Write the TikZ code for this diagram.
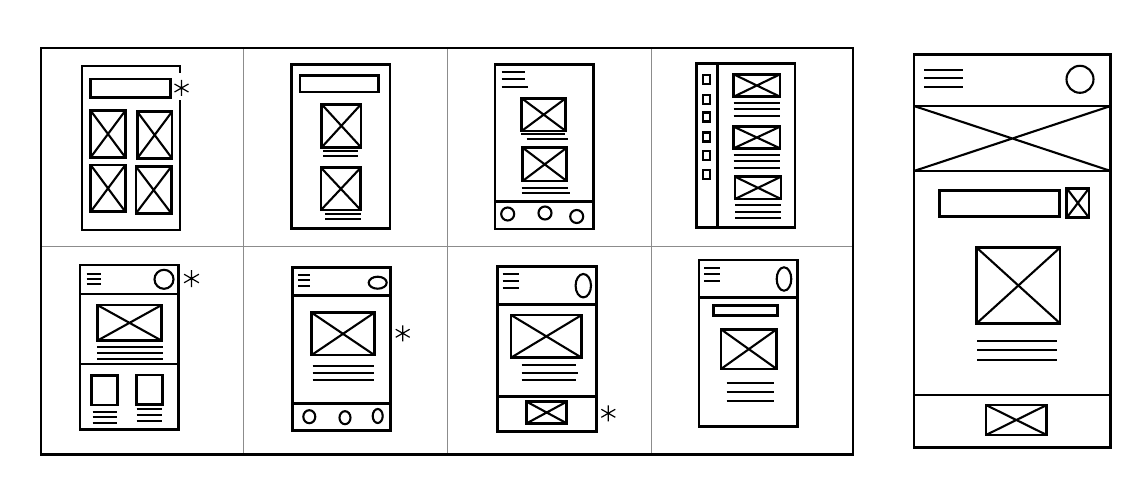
\documentclass[tikz,border=0pt]{standalone}
\begin{document}
\begin{tikzpicture}[x=1pt,y=-1pt,line join=miter,
  wf/.style={draw=black,line width=2.5pt},
  thinl/.style={draw=black,line width=2.1pt},
  grid/.style={draw=black!45,line width=1pt},
  astk/.style={draw=black,line width=1.2pt}]
\newcommand\wfx[4]{\draw[wf] (#1,#2) rectangle (#3,#4); \draw[thinl] (#1,#2) -- (#3,#4) (#1,#4) -- (#3,#2);}
\newcommand\wfast[3]{\draw[astk] (#1,#2) ++(0,-#3) -- ++(0,2*#3) (#1,#2) ++(-0.87*#3,-0.5*#3) -- ++(1.74*#3,#3) (#1,#2) ++(-0.87*#3,0.5*#3) -- ++(1.74*#3,-#3);}
\newcommand\wfl[3]{\draw[thinl] (#1,#3) -- (#2,#3);}
\useasboundingbox (0,0) rectangle (1143,497);
\fill[white] (0,0) rectangle (1143,497);
% grid
\draw[grid] (243.5,48) -- (243.5,455) (447.5,48) -- (447.5,455) (651.5,48) -- (651.5,455) (41,246) -- (853,246);
\draw[black,line width=2.2pt] (41,48) rectangle (853,454.5);
% ---- cell 1
\draw[wf] (180,73) -- (180,66) -- (82,66) -- (82,230) -- (180,230) -- (180,100);
\draw[wf] (90.7,79) rectangle (170.7,97.3);
\wfast{181.5}{88}{8}
\wfx{90.7}{110.7}{125.3}{157.3}
\wfx{137.3}{111.7}{172}{158.3}
\wfx{90.7}{165}{125.3}{211.7}
\wfx{136}{166.7}{171.3}{213.3}
% ---- cell 2
\draw[wf] (291.7,64.3) rectangle (390,228.3);
\draw[wf] (300,75.7) rectangle (378.7,92);
\wfx{321.7}{104.3}{361}{147.3}
\wfl{323}{358}{151} \wfl{323}{358}{156}
\wfx{321}{167.7}{360.7}{210}
\wfl{325}{361}{214} \wfl{325}{361}{219}
% ---- cell 3
\draw[wf] (495,64.3) rectangle (593.3,229);
\draw[wf] (495,201.7) -- (593.3,201.7);
\wfl{501.7}{525}{72.3} \wfl{501.7}{525}{79} \wfl{501.7}{528}{87}
\wfx{521.7}{98.3}{565.7}{131}
\wfl{521}{565}{134.3} \wfl{526.7}{567.7}{139.3}
\wfx{522.7}{147.7}{566.7}{181}
\wfl{521.7}{568}{187.7} \wfl{521.7}{570}{192.7}
\draw[thinl] (507.7,214) circle (6.5) (545,213) circle (6.5) (576.7,216.5) circle (6.5);
% ---- cell 4
\draw[wf] (696.7,63.3) rectangle (795,227.7);
\draw[wf] (717.7,63.3) -- (717.7,227.7);
\foreach \yy in {79.7,99.7,117,137,155.3,174.3} \draw[thinl] (703.3,\yy-4.5) rectangle (710,\yy+4.5);
\wfx{733.7}{74.3}{780}{96.7}
\wfl{733.7}{780}{103.3} \wfl{733.7}{780}{109} \wfl{733.7}{780}{115.7}
\wfx{733.7}{126.7}{780}{148.3}
\wfl{733.7}{780}{155} \wfl{733.7}{780}{161} \wfl{733.7}{780}{167.7}
\wfx{735}{176.7}{781}{199}
\wfl{735}{781}{205} \wfl{735}{781}{211.7} \wfl{735}{781}{217.7}
% ---- cell 5
\draw[wf] (80,265) rectangle (178.3,429.3);
\draw[wf] (80,294) -- (178.3,294) (80,364) -- (178.3,364);
\wfl{86.7}{101}{274.3} \wfl{86.7}{101}{279.3} \wfl{86.7}{101}{284.3}
\draw[thinl] (164,279.3) circle (9.5);
\wfast{191.5}{278.5}{8.5}
\wfx{97.3}{305}{161.7}{340.7}
\wfl{97.3}{163.3}{347.3} \wfl{97.3}{163.3}{352.7} \wfl{97.3}{163.3}{358.7}
\draw[wf] (91.7,375.7) rectangle (117.3,405);
\draw[wf] (136.7,375) rectangle (162.7,404.3);
\wfl{92.7}{117.3}{411.7} \wfl{92.7}{117.3}{417.3} \wfl{92.7}{117.3}{423}
\wfl{136.7}{161.7}{409.3} \wfl{136.7}{161.7}{415} \wfl{136.7}{161.7}{420.7}
% ---- cell 6
\draw[wf] (292.3,267.3) rectangle (390.7,430.7);
\draw[wf] (292.3,295.7) -- (390.7,295.7) (292.3,403.3) -- (390.7,403.3);
\wfl{298.3}{310}{275} \wfl{298.3}{310}{280} \wfl{298.3}{310}{286}
\draw[thinl] (377.7,282.7) ellipse (9 and 6);
\wfast{402.7}{333.3}{8}
\wfx{311.7}{312.7}{374.3}{355}
\wfl{312.7}{374.3}{366} \wfl{312.7}{374.3}{372.7} \wfl{312.7}{374.3}{379.7}
\draw[thinl] (309.3,416.7) ellipse (6 and 6.5) (345,417.7) ellipse (5.5 and 6.5) (377.7,416) ellipse (5 and 7);
% ---- cell 7
\draw[wf] (497.7,266.7) rectangle (596.7,431.7);
\draw[wf] (497.7,304.3) -- (596.7,304.3) (497.7,396.7) -- (596.7,396.7);
\wfl{502.7}{519}{274.3} \wfl{502.7}{519}{281} \wfl{502.7}{519}{287.7}
\draw[thinl] (583.3,285.7) ellipse (7.7 and 11.7);
\wfx{511}{315}{581.7}{357.7}
\wfl{521.7}{576}{365} \wfl{521.7}{578.3}{372.7} \wfl{521.7}{576}{380}
\wfx{526.7}{401.7}{566.7}{423.3}
\wfast{608.3}{413.3}{8}
% ---- cell 8
\draw[wf] (699,260) rectangle (797.7,426.7);
\draw[wf] (699,297.3) -- (797.7,297.3);
\wfl{704.3}{720}{267.7} \wfl{704.3}{720}{274.3} \wfl{704.3}{720}{281}
\draw[thinl] (784,279) ellipse (7.3 and 11.7);
\draw[wf] (713.3,305.7) rectangle (777.3,315.7);
\wfx{721}{329.3}{776.7}{369}
\wfl{726.7}{774}{383.3} \wfl{726.7}{774}{392.3} \wfl{726.7}{774}{401}
% ---- right big wireframe
\draw[black,line width=2.8pt] (914,54.3) rectangle (1110.7,447.3);
\draw[wf] (914,106) -- (1110.7,106) (914,171) -- (1110.7,171) (914,395) -- (1110.7,395);
\draw[thinl] (914,106) -- (1110.7,171) (914,171) -- (1110.7,106);
\wfl{924}{963.3}{70.3} \wfl{924}{963.3}{78.3} \wfl{924}{963.3}{87}
\draw[thinl] (1080,79.3) circle (13.5);
\draw[wf] (939.3,190.3) rectangle (1059.3,216.7);
\wfx{1066.7}{188.3}{1089}{217.7}
\wfx{976.7}{247.7}{1060}{323.3}
\wfl{977.3}{1056.7}{341} \wfl{977.3}{1056.7}{350.3} \wfl{977.3}{1056.7}{360}
\wfx{986}{405}{1046.7}{435}
\end{tikzpicture}
\end{document}
